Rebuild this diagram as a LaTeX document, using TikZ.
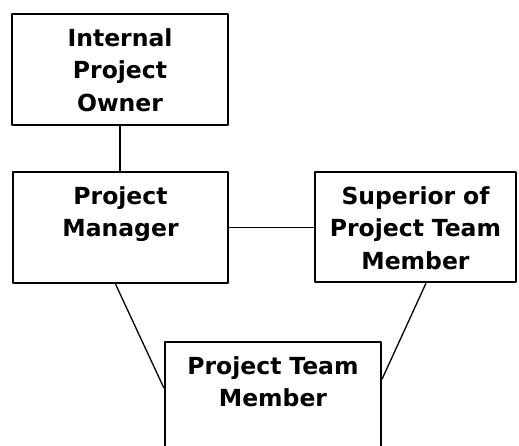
\documentclass[tikz,border=0pt]{standalone}
\usepackage{fontspec}
\setmainfont{DejaVu Sans}
\begin{document}
\begin{tikzpicture}[x=1pt, y=-1pt, line join=round,
  role/.style={draw, line width=2.2pt, inner sep=0pt, align=center, anchor=north,
    font=\fontsize{23.5}{32.5}\selectfont\bfseries, text height=32pt, text depth=79pt},
  link/.style={line width=1.3pt}]
\useasboundingbox (0,0) rectangle (519,446);
\clip (0,0) rectangle (519,446);
% the four roles
\node[role, text width=216pt] (owner) at (120,13) {Internal\\Project\\Owner};
\node[role, text width=215pt] (pm) at (120.5,171) {Project\\Manager};
\node[role, text width=201pt, text depth=78pt] (sup) at (415.5,171) {Superior of\\Project Team\\Member};
\node[role, text width=216pt, text depth=120pt] (ptm) at (273,341) {Project Team\\Member};
% links between them
\draw[link] (owner.south) -- (owner.south |- pm.north);
\draw[link] (pm.east) -- (pm.east -| sup.west);
\draw[link] (pm.-95) -- ([yshift=-47pt]ptm.north west);
\draw[link] ([xshift=10.5pt]sup.south) -- ([yshift=-38pt]ptm.north east);
\end{tikzpicture}
\end{document}
